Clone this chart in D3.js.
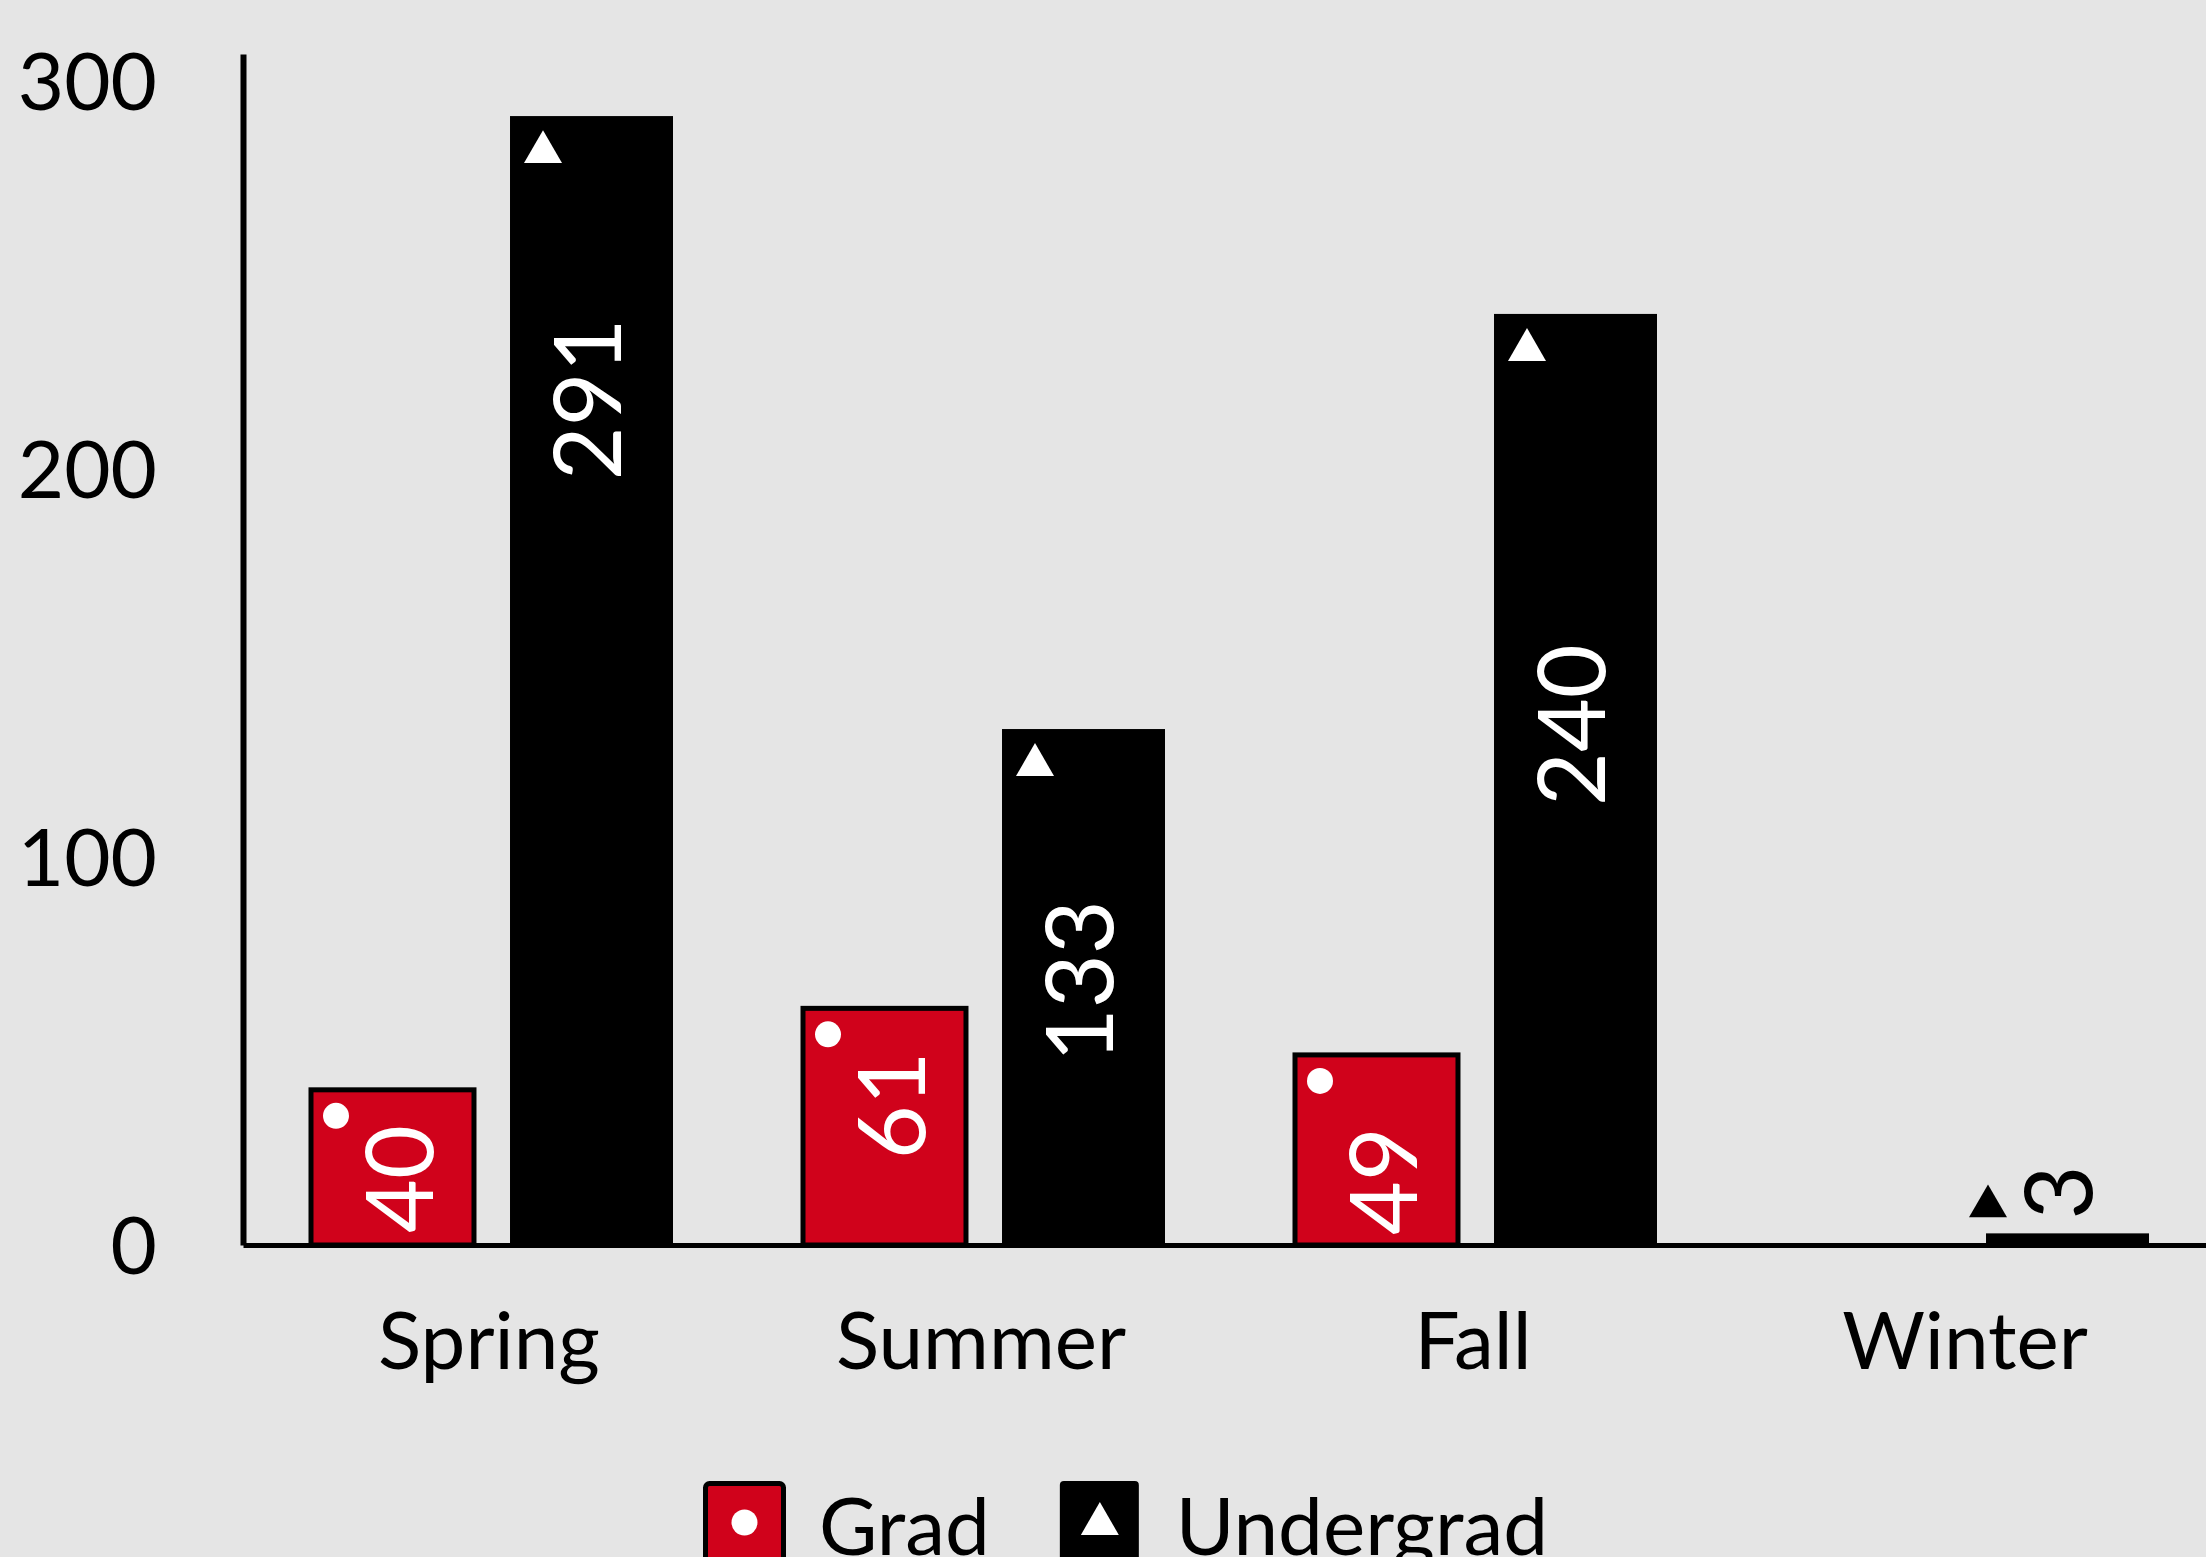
<!DOCTYPE html>
<html>
<head>
<meta charset="utf-8">
<script src="https://cdn.jsdelivr.net/npm/d3@7"></script>
<style>
  body { margin: 0; background: #e5e5e5; }
  svg { display: block; }
</style>
</head>
<body>
<svg width="2206" height="1557"></svg>
<script>
// data
const categories = ["Spring", "Summer", "Fall", "Winter"];
const series = ["Grad", "Undergrad"];
const gradValues = [40, 61, 49, 0];
const undergradValues = [291, 133, 240, 3];
// where the value label sits along the bar (in data units, label middle)
const gradLabelAt = [17, 36, 16.5, 0];
const undergradLabelAt = [218, 68, 134, 13.5];
const yTicks = [0, 100, 200, 300];

const svg = d3.select("svg"),
    width = +svg.attr("width"),
    height = +svg.attr("height");

svg.append("rect")
    .attr("width", width)
    .attr("height", height)
    .attr("fill", "#e5e5e5");

const colors = { Grad: "#d0021b", Undergrad: "#000000" };

const y = d3.scaleLinear().domain([0, 307]).range([1245, 54]);
const x = d3.scaleBand().domain(categories).range([243, 2211]);
const xSub = d3.scaleBand().domain(series).range([68, 430]).paddingInner(0.181);

const rows = [];
categories.forEach(function(c, i) {
    rows.push({ cat: c, key: "Grad", value: gradValues[i], labelAt: gradLabelAt[i] });
    rows.push({ cat: c, key: "Undergrad", value: undergradValues[i], labelAt: undergradLabelAt[i] });
});
const shown = rows.filter(d => d.value > 0);

// Bars
svg.append("g").selectAll("rect")
    .data(shown)
    .enter().append("rect")
    .attr("x", d => x(d.cat) + xSub(d.key))
    .attr("y", d => y(d.value))
    .attr("width", xSub.bandwidth())
    .attr("height", d => y(0) - y(d.value))
    .attr("fill", d => colors[d.key])
    .attr("stroke", d => d.key == "Grad" ? "#000" : "none")
    .attr("stroke-width", 5);

// small bars get their marker and label above, in black
const isSmall = d => (y(0) - y(d.value)) < 50;

// Markers
const markers = svg.append("g");
markers.selectAll("circle")
    .data(shown.filter(d => d.key == "Grad"))
    .enter().append("circle")
    .attr("cx", d => x(d.cat) + xSub(d.key) + 25)
    .attr("cy", d => y(d.value) + 26)
    .attr("r", 13)
    .attr("fill", "#fff");

markers.selectAll("path")
    .data(shown.filter(d => d.key == "Undergrad"))
    .enter().append("path")
    .attr("d", d3.symbol(d3.symbolTriangle, 625))
    .attr("transform", function(d) {
        const bx = x(d.cat) + xSub(d.key);
        if (isSmall(d)) return "translate(" + (bx + 2) + "," + (y(d.value) - 27) + ")";
        return "translate(" + (bx + 33) + "," + (y(d.value) + 36) + ")";
    })
    .attr("fill", d => isSmall(d) ? "#000" : "#fff");

// Value labels
svg.append("g").selectAll("text")
    .data(shown)
    .enter().append("text")
    .attr("transform", function(d) {
        let shift = d.key == "Grad" ? 7 : -4;
        if (isSmall(d)) shift = -9;
        const cx = x(d.cat) + xSub(d.key) + xSub.bandwidth() / 2 + shift;
        return "translate(" + cx + "," + y(d.labelAt) + ")rotate(-90)";
    })
    .attr("text-anchor", "middle")
    .attr("dy", "0.36em")
    .style("font-family", "Lato")
    .style("font-size", "93px")
    .attr("fill", d => isSmall(d) ? "#000" : "#fff")
    .text(d => d.value);

// Y-Axis
const yAxis = svg.append("g")
    .attr("transform", "translate(243,0)")
    .call(d3.axisLeft(y).tickValues(yTicks).tickSize(0).tickPadding(86));
yAxis.select(".domain").attr("stroke", "#000").attr("stroke-width", 6);
yAxis.selectAll("text")
    .attr("dy", "0.36em")
    .style("font-family", "Lato")
    .style("font-size", "80px")
    .attr("fill", "#000");

// X-Axis
const xAxis = svg.append("g")
    .attr("transform", "translate(0," + y(0) + ")")
    .call(d3.axisBottom(x).tickSize(0).tickPadding(67));
xAxis.select(".domain").attr("stroke", "#000").attr("stroke-width", 5);
xAxis.selectAll("text")
    .style("font-family", "Lato")
    .style("font-size", "80px")
    .attr("fill", "#000");

// Legend
const legend = svg.append("g").attr("transform", "translate(703,1481)");
let lx = 0;
series.forEach(function(s) {
    const item = legend.append("g").attr("transform", "translate(" + lx + ",0)");
    if (s == "Grad") {
        item.append("rect")
            .attr("x", 2.5).attr("y", 2.5)
            .attr("width", 78).attr("height", 78)
            .attr("rx", 4)
            .attr("fill", colors[s])
            .attr("stroke", "#000")
            .attr("stroke-width", 5);
        item.append("circle")
            .attr("cx", 41.5).attr("cy", 41.5).attr("r", 13)
            .attr("fill", "#fff");
    } else {
        item.append("rect")
            .attr("width", 79).attr("height", 80)
            .attr("rx", 4)
            .attr("fill", colors[s]);
        item.append("path")
            .attr("d", d3.symbol(d3.symbolTriangle, 625))
            .attr("transform", "translate(40,43)")
            .attr("fill", "#fff");
    }
    const t = item.append("text")
        .attr("x", 116)
        .attr("y", 74)
        .style("font-family", "Lato")
        .style("font-size", "80px")
        .attr("fill", "#000")
        .text(s);
    lx += 116 + t.node().getComputedTextLength() + 70;
});
</script>
</body>
</html>
